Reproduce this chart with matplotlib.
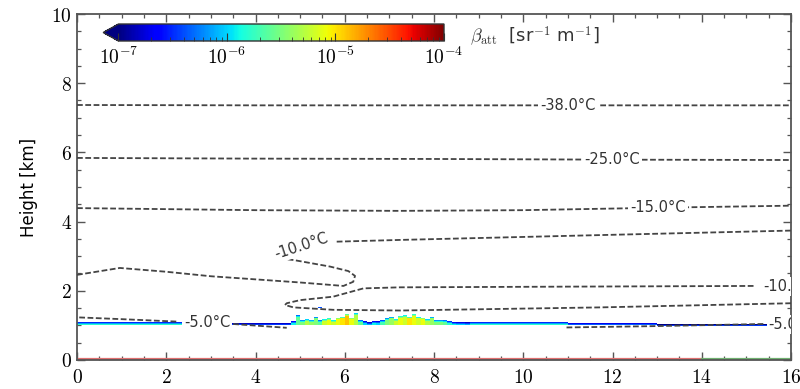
import numpy as np
import matplotlib.pyplot as plt
from matplotlib.colors import LogNorm
from matplotlib.ticker import FuncFormatter, MultipleLocator, FixedLocator

plt.rcParams['mathtext.fontset'] = 'cm'
plt.rcParams['font.family'] = ['DejaVu Sans']

# ---- isotherms (distance [km], height [km]) ----
iso38_x = [0, 4, 8, 12, 16]
iso38_y = [7.37, 7.36, 7.36, 7.36, 7.36]
iso25_x = [0, 4, 8, 12, 16]
iso25_y = [5.84, 5.82, 5.81, 5.79, 5.78]
iso15_x = [0, 4, 7.2, 10, 13, 16]
iso15_y = [4.39, 4.33, 4.31, 4.33, 4.40, 4.46]
iso10a_x = [0, 0.96, 2, 3, 4, 5, 5.97, 6.19, 6.23, 6.08, 5.67, 4.85, 4.70]
iso10a_y = [2.46, 2.66, 2.55, 2.42, 2.33, 2.24, 2.14, 2.26, 2.43, 2.57, 2.70, 2.89, 2.91]
iso10b_x = [5.82, 7.24, 11.72, 16]
iso10b_y = [3.42, 3.47, 3.61, 3.74]
iso10c_x = [15.16, 11.0, 7.24, 6.42, 5.74, 5.0, 4.70, 4.66, 4.85, 5.74, 7.24, 11.72, 16]
iso10c_y = [2.14, 2.12, 2.10, 2.07, 1.83, 1.73, 1.64, 1.59, 1.52, 1.45, 1.43, 1.52, 1.64]
iso5a_x = [0.05, 1.0, 2.23]
iso5a_y = [1.23, 1.18, 1.11]
iso5b_x = [3.50, 4.70]
iso5b_y = [1.04, 0.93]
iso5c_x = [10.97, 13.0, 15.38]
iso5c_y = [0.94, 0.98, 1.04]

# ---- backscatter layer near 1 km ----
# coarse segments: start, end [km], base, top [km], log10(beta)
seg_start = [0.0, 2.4, 8.8, 11.0, 13.0, 15.5]
seg_end = [2.4, 4.8, 11.0, 13.0, 15.5, 16.0]
seg_base = [1.00, 1.00, 1.00, 0.99, 0.98, 0.99]
seg_top = [1.10, 1.08, 1.09, 1.07, 1.06, 1.07]
seg_logb = [-5.8, -6.1, -5.8, -6.0, -6.3, -6.1]
# fine columns 4.8-8.8 km (0.1 km steps): top [km], log10(beta)
fine_top = [1.12, 1.30, 1.15, 1.18, 1.16, 1.24, 1.14, 1.18, 1.20, 1.16,
            1.22, 1.26, 1.32, 1.22, 1.34, 1.14, 1.12, 1.11, 1.13, 1.12,
            1.16, 1.20, 1.26, 1.18, 1.28, 1.30, 1.24, 1.32, 1.26, 1.22,
            1.18, 1.24, 1.16, 1.14, 1.16, 1.12, 1.11, 1.10, 1.10, 1.09]
fine_logb = [-5.9, -5.6, -5.5, -5.3, -5.4, -5.5, -5.6, -5.2, -5.1, -5.2,
             -5.1, -5.0, -4.9, -5.1, -5.3, -5.6, -6.0, -6.1, -5.9, -6.0,
             -5.7, -5.5, -5.4, -5.2, -5.1, -5.2, -5.0, -5.1, -5.2, -5.1,
             -5.3, -5.4, -5.5, -5.5, -5.6, -5.8, -5.9, -6.0, -6.0, -6.1]
# isolated returns
iso_pt_x = [4.95, 5.45]
iso_pt_y = [1.52, 1.52]
iso_pt_logb = [-6.4, -6.4]

surface_edges = [0, 14, 16]
surface_colors = ['#e07070', '#70b070']

# build the field
x_edges = np.round(np.arange(0, 16.0001, 0.1), 3)
y_edges = np.round(np.arange(0.95, 1.60001, 0.025), 4)
xc = 0.5 * (x_edges[:-1] + x_edges[1:])
yc = 0.5 * (y_edges[:-1] + y_edges[1:])
field = np.full((len(yc), len(xc)), np.nan)
for j, x in enumerate(xc):
    if 4.8 <= x < 8.8:
        k = int(round((x - 4.85) / 0.1))
        base, top, lb = 1.00, fine_top[k], fine_logb[k]
    else:
        s = [i for i in range(len(seg_start)) if seg_start[i] <= x < seg_end[i]][0]
        base, top, lb = seg_base[s], seg_top[s], seg_logb[s]
    rows = np.where((yc >= base) & (yc <= top))[0]
    nr = len(rows)
    for n, r in enumerate(rows):
        v = lb
        if n == 0:
            v = lb - 0.15
        if nr > 2 and n == nr - 2:
            v = lb - 0.35
        if nr > 1 and n == nr - 1:
            v = lb - 0.7
        field[r, j] = 10 ** v
for px, py, pl in zip(iso_pt_x, iso_pt_y, iso_pt_logb):
    j = np.argmin(abs(xc - px))
    r = np.argmin(abs(yc - py))
    field[r, j] = 10 ** pl

fig = plt.figure(figsize=(8, 3.89), dpi=100)
ax = fig.add_axes([0.09625, 0.0746, 0.8925, 0.8894])

norm = LogNorm(1e-7, 1e-4)
mesh = ax.pcolormesh(x_edges, y_edges, np.ma.masked_invalid(field), cmap='jet',
                     norm=norm, shading='flat', zorder=2)

line_kw = dict(color='#444444', lw=1.3, linestyle=(0, (3.2, 1.4)), zorder=3)
for xs, ys in [(iso38_x, iso38_y), (iso25_x, iso25_y), (iso15_x, iso15_y),
               (iso10a_x, iso10a_y), (iso10b_x, iso10b_y), (iso10c_x, iso10c_y),
               (iso5a_x, iso5a_y), (iso5b_x, iso5b_y), (iso5c_x, iso5c_y)]:
    ax.plot(xs, ys, **line_kw)

lab_kw = dict(fontsize=10.5, color='#333333', va='center', zorder=4,
              bbox=dict(facecolor='white', edgecolor='none', pad=1.5))
ax.text(11.0, 7.36, '-38.0°C', ha='center', **lab_kw)
ax.text(12.0, 5.80, '-25.0°C', ha='center', **lab_kw)
ax.text(13.02, 4.41, '-15.0°C', ha='center', **lab_kw)
ax.text(5.03, 3.30, '-10.0°C', ha='center', rotation=18, **lab_kw)
ax.text(15.38, 2.12, '-10.0°C', ha='left', clip_on=True, **lab_kw)
ax.text(2.92, 1.08, '-5.0°C', ha='center', **lab_kw)
ax.text(15.5, 1.02, '-5.0°C', ha='left', clip_on=True, **lab_kw)

for i in range(len(surface_colors)):
    ax.plot(surface_edges[i:i + 2], [0.04, 0.04], color=surface_colors[i],
            lw=1.6, zorder=2)

ax.set_xlim(0, 16)
ax.set_ylim(0, 10)
ax.xaxis.set_major_locator(MultipleLocator(2))
ax.xaxis.set_minor_locator(MultipleLocator(0.5))
ax.yaxis.set_major_locator(MultipleLocator(2))
ax.yaxis.set_minor_locator(MultipleLocator(0.5))
fmt = FuncFormatter(lambda v, p: '$%d$' % v)
ax.xaxis.set_major_formatter(fmt)
ax.yaxis.set_major_formatter(fmt)
ax.tick_params(which='both', direction='in', top=True, right=True,
               color='#555555', labelsize=14)
ax.tick_params(which='major', length=6, width=1.0)
ax.tick_params(which='minor', length=3, width=0.9)
ax.tick_params(axis='x', pad=6)
for sp in ax.spines.values():
    sp.set_color('#555555')
    sp.set_linewidth(1.3)
ax.set_ylabel('Height [km]', fontsize=12, labelpad=10)

# colorbar inset
cax = fig.add_axes([0.129, 0.8946, 0.426, 0.0437])
cb = fig.colorbar(mesh, cax=cax, orientation='horizontal', extend='min',
                  extendfrac=0.047)
cb.set_ticks([1e-7, 1e-6, 1e-5, 1e-4])
cb.ax.xaxis.set_major_formatter(FuncFormatter(lambda v, p: '$10^{%d}$' % round(np.log10(v))))
minors = [m * 10.0 ** e for e in (-7, -6, -5) for m in range(2, 10)]
cb.ax.xaxis.set_minor_locator(FixedLocator(minors))
cb.ax.tick_params(which='both', direction='in', labelsize=14, color='#333333', pad=4)
cb.ax.tick_params(which='major', length=6)
cb.ax.tick_params(which='minor', length=3)
cb.outline.set_edgecolor('#333333')
cb.outline.set_linewidth(1.0)
fig.text(0.588, 0.905, r'$\beta_{\rm att}$  [sr$^{-1}$ m$^{-1}$]', fontsize=13,
         va='center', ha='left', color='#333333')

fig.savefig('out.png', dpi=100)
